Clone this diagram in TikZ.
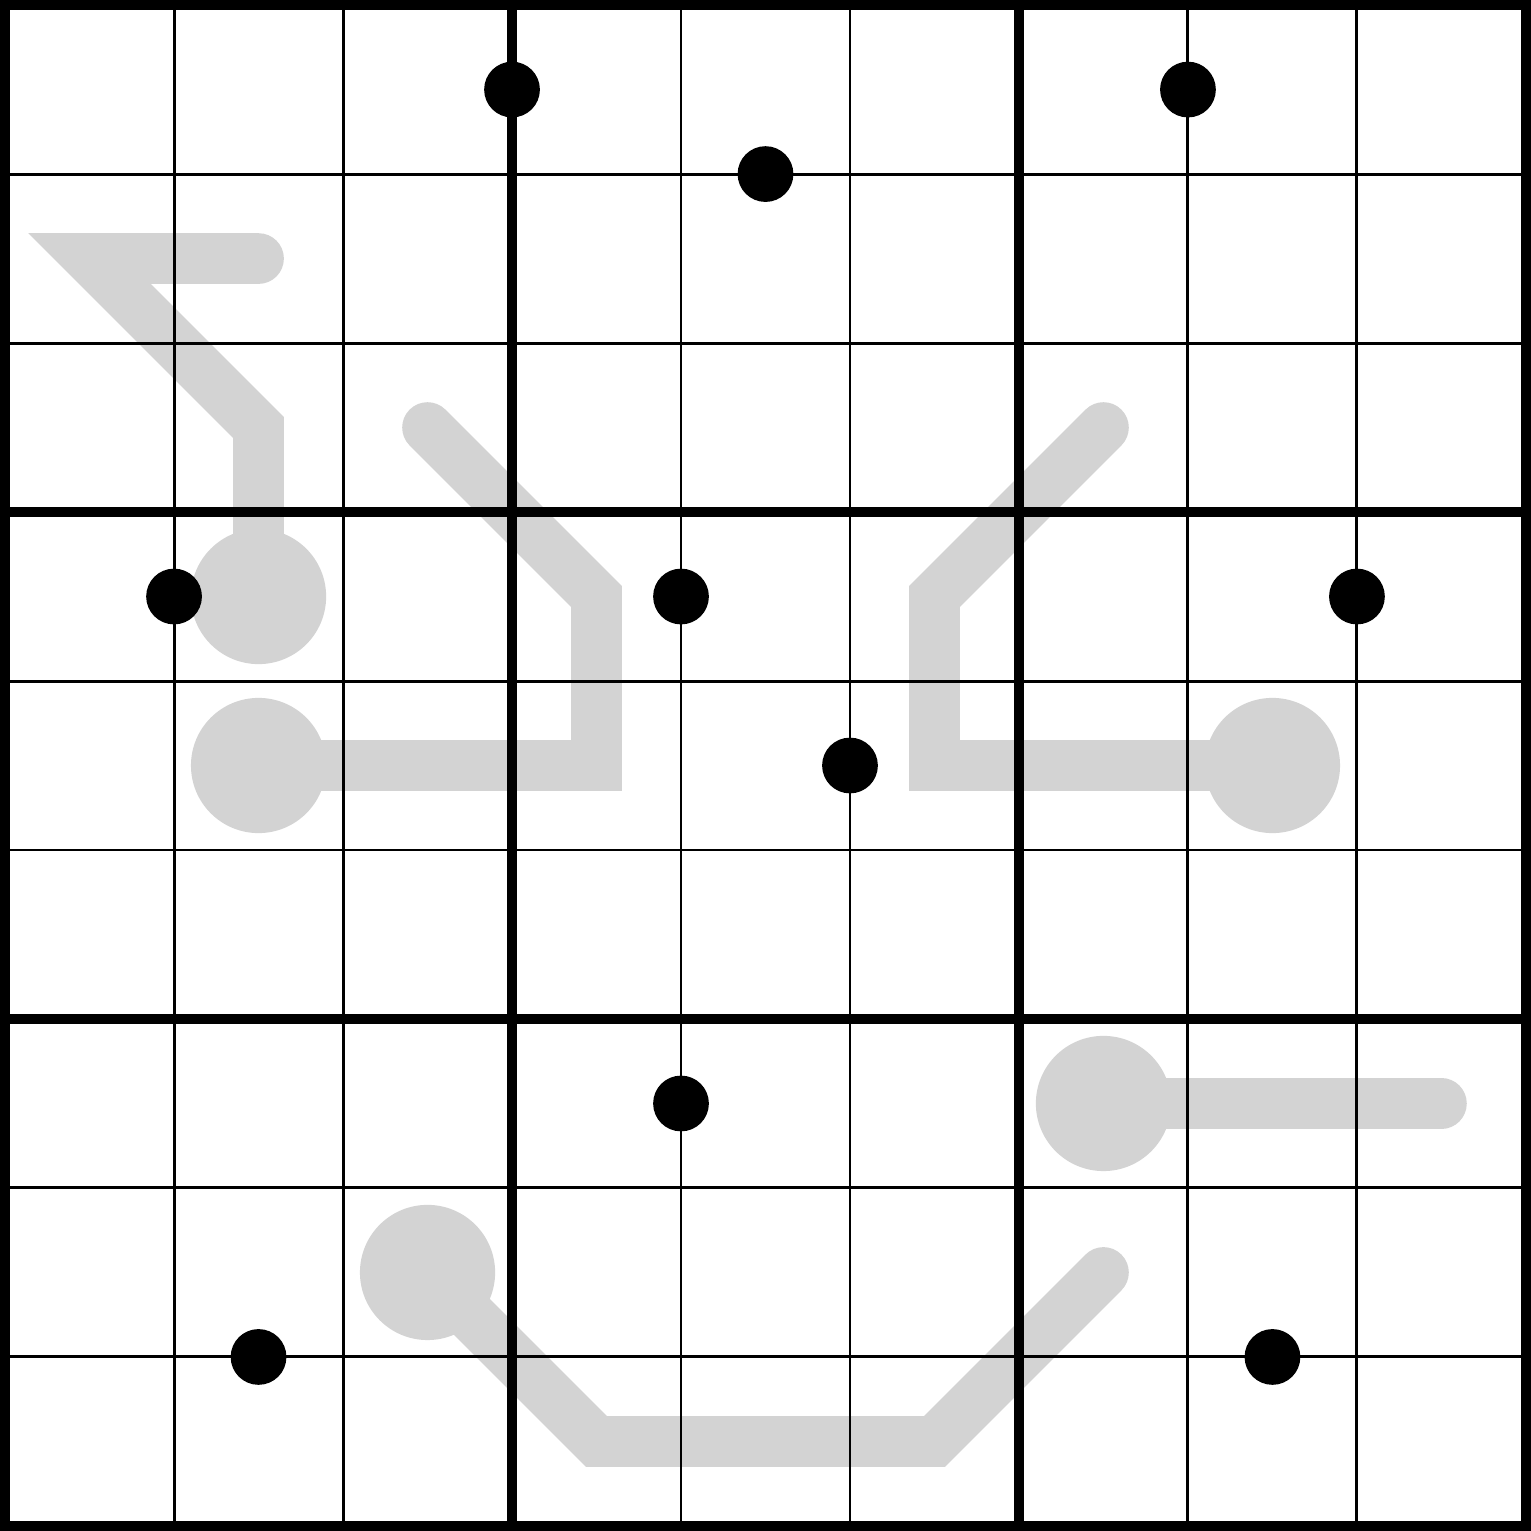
\documentclass[tikz,border=0pt]{standalone}
\usepackage{tikz}
\definecolor{thermogray}{RGB}{211,211,211}

\begin{document}
\begin{tikzpicture}[x=1cm,y=-1cm,
  thermo/.style={draw=thermogray,line width=0.3cm,line cap=round},
  bulb/.style={fill=thermogray},
  cellline/.style={line width=0.5pt},
  boxline/.style={line width=1.7pt,line cap=square},
  givendot/.style={fill=black}]
\useasboundingbox (-0.03,-0.03) rectangle (9.03,9.03);
% thermometers
\draw[thermo] (1.5,3.5) -- (1.5,2.5) -- (0.5,1.5) -- (1.5,1.5);
\draw[thermo] (1.5,4.5) -- (3.5,4.5) -- (3.5,3.5) -- (2.5,2.5);
\draw[thermo] (7.5,4.5) -- (5.5,4.5) -- (5.5,3.5) -- (6.5,2.5);
\draw[thermo] (6.5,6.5) -- (8.5,6.5);
\draw[thermo] (2.5,7.5) -- (3.5,8.5) -- (5.5,8.5) -- (6.5,7.5);
\foreach \x/\y in {1.5/3.5,1.5/4.5,7.5/4.5,6.5/6.5,2.5/7.5} {
   \fill[bulb] (\x,\y) circle (0.4);
}
% grid
\foreach \i in {1,2,4,5,7,8} {
   \draw[cellline] (\i,0) -- (\i,9) (0,\i) -- (9,\i);
}
\foreach \i in {3,6} {
   \draw[boxline] (\i,0) -- (\i,9) (0,\i) -- (9,\i);
}
\draw[boxline] (0,0) rectangle (9,9);
% dots
\foreach \x/\y in %
{3/0.5,4.5/1,7/0.5,1/3.5,4/3.5,8/3.5,5/4.5,4/6.5,1.5/8,7.5/8} {
   \fill[givendot] (\x,\y) circle (0.165);
}
\end{tikzpicture}
\end{document}
